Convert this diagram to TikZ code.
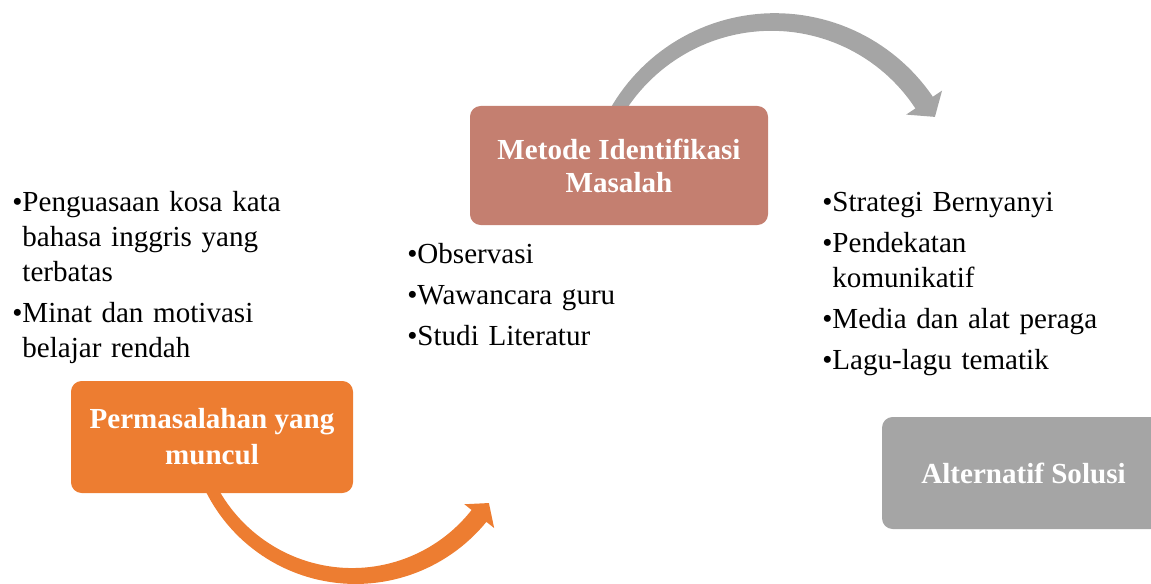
\documentclass[tikz,border=0pt]{standalone}
\usepackage{fontspec}
\setmainfont{Liberation Serif}
\definecolor{oranye}{RGB}{237,125,49}
\definecolor{merahbata}{RGB}{196,127,112}
\definecolor{abu}{RGB}{165,165,165}
\newlength{\bulw}
% one bullet item, later lines hang under the text
\newcommand{\butir}[1]{\noindent\settowidth{\bulw}{\textbullet}%
  \hangindent=\bulw\hangafter=1\textbullet#1\par}
\begin{document}
\begin{tikzpicture}[x=0.75pt,y=0.75pt,
    kotak/.style={rounded corners=8pt,text=white,align=center,inner sep=0pt,
      font=\fontsize{21.8pt}{#1}\selectfont\bfseries},
    kotak/.default=26pt,
    daftar/.style={anchor=base west,inner sep=0pt,align=left,
      font=\fontsize{21.8pt}{26.25pt}\selectfont,
      execute at begin node={\setlength{\parskip}{4.5pt}}}]
    \clip (0,0) rectangle (1151,583);
    % curved arrows (drawn first, the boxes cover their tails)
    \coordinate (pusatA) at (353.9,167.3);
    \coordinate (pusatB) at (773.2,379.4);
    \begin{scope}[shift={(pusatA)}]
        \fill[oranye] plot[domain=205:321.3,samples=60]
            (\x:{160.3+6+3.5*(\x-205)/116.3})
            -- (321.3:179.7) -- (327.1:160.8) -- (321.3:141.6)
            -- plot[domain=321.3:205,samples=60]
            (\x:{160.3-6-3.5*(\x-205)/116.3}) -- cycle;
    \end{scope}
    \begin{scope}[shift={(pusatB)}]
        \fill[abu] plot[domain=150:33.8,samples=60]
            (\x:{181.6+7+3.5*(150-\x)/116.2})
            -- (33.8:203.2) -- (28.2:183.5) -- (33.8:160)
            -- plot[domain=33.8:150,samples=60]
            (\x:{181.6-7-3.5*(150-\x)/116.2}) -- cycle;
    \end{scope}
    % boxes
    \node[kotak=27pt,fill=oranye,minimum width=211.5pt,minimum height=84pt]
        (masalah) at (212,146) {Permasalahan yang\\muncul};
    \node[kotak=24.75pt,fill=merahbata,minimum width=223.5pt,minimum height=89.25pt]
        (metode) at (619,417.5) {Metode Identifikasi\\Masalah};
    \node[kotak,fill=abu,minimum width=212.25pt,minimum height=84pt]
        (solusi) at (1023.5,110) {Alternatif Solusi};
    % bullet lists
    \node[daftar,text width=220pt] (isimasalah) at (12,372)
        {\butir{Penguasaan kosa kata\newline bahasa inggris yang\newline terbatas}%
         \butir{Minat dan motivasi\newline belajar rendah}};
    \node[daftar,text width=180pt] (isimetode) at (407,320)
        {\butir{Observasi}\butir{Wawancara guru}\butir{Studi Literatur}};
    \node[daftar,text width=240pt] (isisolusi) at (822,372)
        {\butir{Strategi Bernyanyi}\butir{Pendekatan\newline komunikatif}%
         \butir{Media dan alat peraga}\butir{Lagu-lagu tematik}};
\end{tikzpicture}
\end{document}
